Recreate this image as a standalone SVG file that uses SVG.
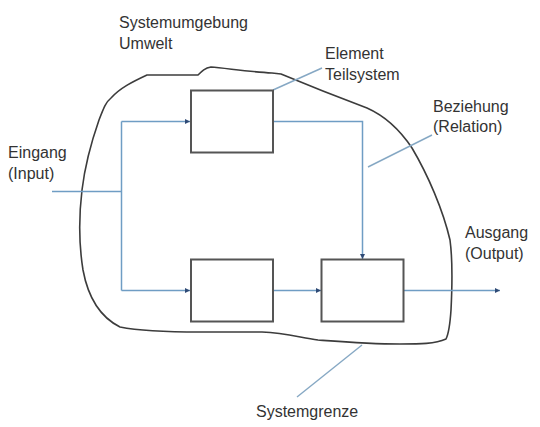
<svg xmlns="http://www.w3.org/2000/svg" width="540" height="427" viewBox="0 0 540 427">
<style>
.box{fill:#fff;stroke:#555;stroke-width:2}
.conn{fill:none;stroke:#6f9dc4;stroke-width:1.5}
.ptr{fill:none;stroke:#86a8c4;stroke-width:1.5}
.bound{fill:none;stroke:#3c3c3c;stroke-width:1.6;stroke-linejoin:round}
text{font-family:"Liberation Sans",Arial,sans-serif;font-size:16px;fill:#333}
</style>
<defs>
<marker id="ah" markerWidth="6" markerHeight="6" refX="5" refY="3" orient="auto" markerUnits="userSpaceOnUse">
<path d="M0,0.5 L5,3 L0,5.5 Z" fill="#2f4a75"/>
</marker>
</defs>
<rect width="540" height="427" fill="#fff"/>
<g id="systemgrenze-outline">
<path class="bound" d="M147,75 L198,75 C202,71 205,68 211,67 C225,68 250,72 272,73 L281,74 C305,84 335,96 367,108 C385,116 400,130 412,148 C428,175 443,210 450,240 C453,262 452,290 451,310 C450,325 449,333 446,339 C435,344 420,344 400,344 C370,344 345,342 318,340 C298,337 285,333 262,332 L200,332 C165,332 140,331 120,327 C100,317 88,297 83,270 C79,245 79,215 82,190 C85,165 92,140 99,120 C104,107 106,102 111,98 C120,88 132,82 147,75 Z"/>
</g>
<g id="connectors">
<path class="conn" d="M52,191.5 L121.5,191.5"/>
<path class="conn" d="M121.5,121.5 L121.5,290.5"/>
<path class="conn" d="M121.5,121.5 L190,121.5" marker-end="url(#ah)"/>
<path class="conn" d="M121.5,290.5 L190,290.5" marker-end="url(#ah)"/>
<path class="conn" d="M273,290.5 L321,290.5" marker-end="url(#ah)"/>
<path class="conn" d="M273,121.5 L362.5,121.5 L362.5,259" marker-end="url(#ah)"/>
<path class="conn" d="M403,290.5 L500,290.5" marker-end="url(#ah)"/>
<path class="ptr" d="M273,90 L322,68"/>
<path class="ptr" d="M368,167 L432,135"/>
<path class="ptr" d="M362,345 L297,397"/>
</g>
<g id="element-top"><rect class="box" x="191" y="90.5" width="82" height="62"/></g>
<g id="element-bottom-left"><rect class="box" x="191" y="259.5" width="82" height="62"/></g>
<g id="element-bottom-right"><rect class="box" x="321.5" y="259.5" width="82" height="62"/></g>
<g id="labels">
<text x="119" y="28">Systemumgebung</text>
<text x="119" y="49">Umwelt</text>
<text x="325" y="59">Element</text>
<text x="325" y="80">Teilsystem</text>
<text x="433" y="112">Beziehung</text>
<text x="433" y="132">(Relation)</text>
<text x="8" y="158">Eingang</text>
<text x="8" y="179">(Input)</text>
<text x="465" y="238">Ausgang</text>
<text x="465" y="259">(Output)</text>
<text x="256" y="417">Systemgrenze</text>
</g>
</svg>
